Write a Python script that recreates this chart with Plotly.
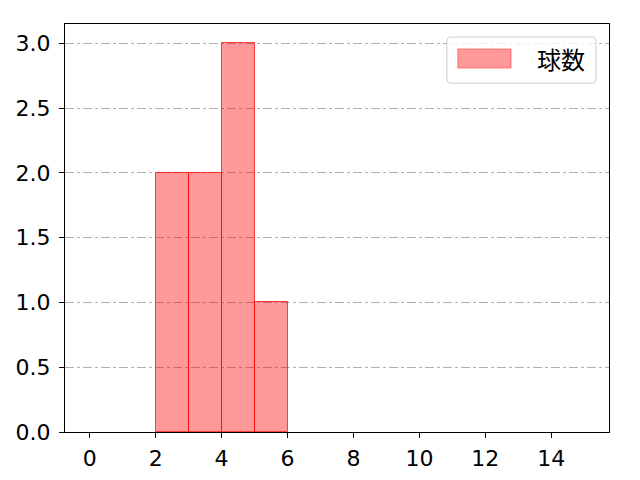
import plotly.graph_objects as go

# histogram bins (left edges) and counts
bin_edges = list(range(0, 16))
counts = [0, 0, 2, 2, 3, 1, 0, 0, 0, 0, 0, 0, 0, 0, 0]
series_name = "球数"

x_ticks = [0, 2, 4, 6, 8, 10, 12, 14]
y_ticks = [0.0, 0.5, 1.0, 1.5, 2.0, 2.5, 3.0]

# empty bins get no outline (matplotlib hides them under the axis)
edge_colors = ["rgba(255,0,0,0.7)" if c > 0 else "rgba(0,0,0,0)" for c in counts]

fig = go.Figure()

fig.add_trace(go.Bar(
    x=bin_edges[:-1],
    y=counts,
    width=1,
    offset=0,
    name=series_name,
    marker=dict(color="rgba(255,0,0,0.4)",
                line=dict(color=edge_colors, width=1)),
    showlegend=False,
))


def rounded_box(x0, x1, y0, y1, rx=0.0075, ry=0.01):
    # rounded rectangle path in paper coords
    return (f"M {x0+rx},{y0} L {x1-rx},{y0} Q {x1},{y0} {x1},{y0+ry} "
            f"L {x1},{y1-ry} Q {x1},{y1} {x1-rx},{y1} "
            f"L {x0+rx},{y1} Q {x0},{y1} {x0},{y1-ry} "
            f"L {x0},{y0+ry} Q {x0},{y0} {x0+rx},{y0} Z")


# legend drawn by hand so the patch looks like matplotlib's
fig.add_shape(type="path", xref="paper", yref="paper",
              path=rounded_box(0.702, 0.976, 0.855, 0.968),
              line=dict(color="#cccccc", width=1), fillcolor="rgba(255,255,255,0.8)")
fig.add_shape(type="rect", xref="paper", yref="paper",
              x0=0.722, x1=0.820, y0=0.892, y1=0.939,
              line=dict(color="rgba(255,0,0,0.4)", width=1), fillcolor="rgba(255,0,0,0.4)")
fig.add_annotation(text=series_name, xref="paper", yref="paper",
                   x=0.912, y=0.915, xanchor="center", yanchor="middle", showarrow=False,
                   font=dict(size=24, color="black", family="Noto Sans CJK JP"))

axis_common = dict(
    showline=True, linecolor="black", linewidth=1, mirror=True,
    ticks="outside", ticklen=5, tickcolor="black",
    tickfont=dict(size=22, color="black", family="DejaVu Sans"),
    zeroline=False, automargin=False,
)

fig.update_xaxes(range=[-0.75, 15.75], tickvals=x_ticks, showgrid=False,
                 ticklabelstandoff=2, **axis_common)
fig.update_yaxes(range=[0, 3.15], tickvals=y_ticks, tickformat=".1f",
                 showgrid=True, gridcolor="#b0b0b0", griddash="dashdot", gridwidth=1,
                 ticklabelstandoff=4, **axis_common)

fig.update_layout(
    width=640, height=480,
    margin=dict(l=65, r=31, t=24, b=48),
    plot_bgcolor="white", paper_bgcolor="white",
    font=dict(family="Noto Sans CJK JP, DejaVu Sans", color="black"),
    bargap=0,
)

fig.write_html("out.html", config={"displayModeBar": False},
               post_script="document.body.style.margin='0';")
